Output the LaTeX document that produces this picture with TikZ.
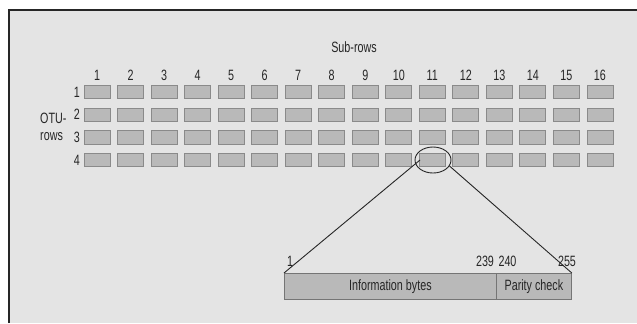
\documentclass[tikz,border=0pt]{standalone}
\usepackage{fontspec}
\setmainfont{Liberation Sans}[FakeStretch=0.72]
\usetikzlibrary{shapes.geometric}
\definecolor{panelgray}{HTML}{E4E4E4}
\definecolor{cellfill}{HTML}{B9B9B9}
\definecolor{celledge}{HTML}{8A8A8A}
\definecolor{inkgray}{HTML}{262626}
\begin{document}
\begin{tikzpicture}[x=1bp,y=-1bp,
  cell/.style={draw=celledge,fill=cellfill,line width=0.9bp,minimum width=26bp,minimum height=13.5bp,inner sep=0pt},
  lbl/.style={font=\fontsize{15}{17}\selectfont,text=inkgray,inner sep=0pt},
  barpart/.style={draw=celledge!85!black,fill=cellfill,line width=0.8bp,inner sep=0pt},
  zoomline/.style={draw=black!85,line width=0.9bp}]
  \useasboundingbox (0,0) rectangle (637,323);
  % panel with frame on top and left
  \fill[white] (0,0) rectangle (637,323);
  \fill[panelgray] (8,9) rectangle (637,323);
  \draw[inkgray,line width=2bp] (9,323) -- (9,10) -- (637,10);

  % title and axis labels
  \node[lbl] (title) at (354,47) {Sub-rows};
  \node[lbl,anchor=west] (otu) at (40,118) {OTU-};
  \node[lbl,anchor=west] (rows) at (40,137) {rows};

  % grid of cells: 4 rows x 16 sub-rows
  \foreach \c in {1,...,16}{
    \node[lbl] (col\c) at ({97+(\c-1)*33.53},75) {\c};
    \foreach \r in {1,...,4}{
      \node[cell] (c\r-\c) at ({97+(\c-1)*33.53},{92+(\r-1)*22.7}) {};
    }
  }
  \foreach \r in {1,...,4}{
    \node[lbl,anchor=east] (row\r) at (80,{92+(\r-1)*22.7}) {\r};
  }

  % highlighted cell
  \node[draw=black!85,line width=0.9bp,ellipse,minimum width=36bp,minimum height=26bp,inner sep=0pt] (hl) at (433,160) {};
  \coordinate (hlL) at (420,160);
  \coordinate (hlR) at (hl.-20);

  % expanded codeword
  \node[barpart,minimum width=212bp,minimum height=26bp,anchor=north west] (info) at (284,273) {};
  \node[barpart,minimum width=75bp,minimum height=26bp,anchor=north west] (par) at (496,273) {};
  \node[lbl] (infotxt) at (info.center) {Information bytes};
  \node[lbl] (partxt) at (par.center) {Parity check};

  \draw[zoomline] (hlL) -- (info.north west);
  \draw[zoomline] (hlR) -- (par.north east);

  % byte positions
  \node[lbl] (b1) at (290,261) {1};
  \node[lbl] (b239) at (485,261) {239};
  \node[lbl] (b240) at (507.5,261) {240};
  \node[lbl] (b255) at (567,261) {255};
\end{tikzpicture}
\end{document}
